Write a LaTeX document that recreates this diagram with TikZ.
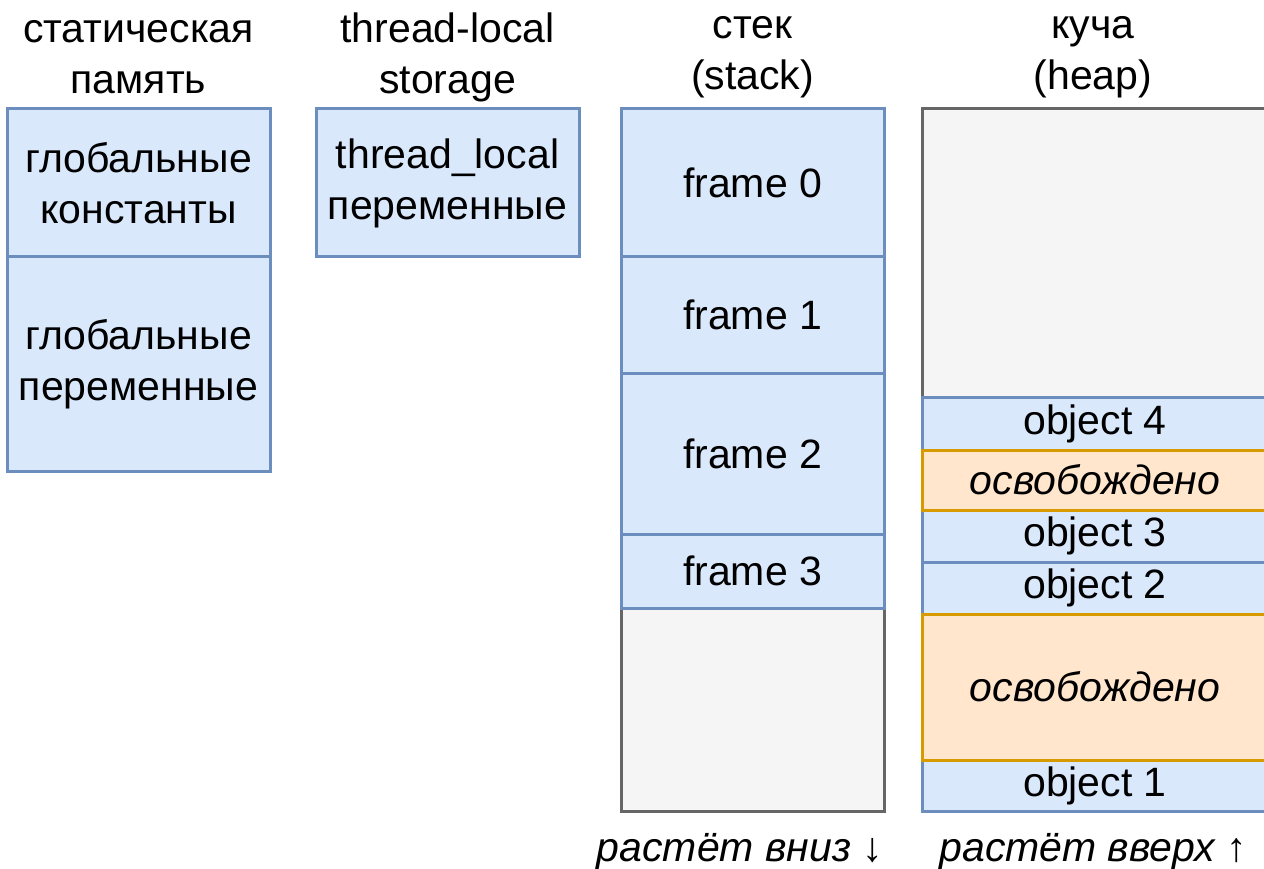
\documentclass[tikz,border=0pt]{standalone}
\usepackage{fontspec}
\setmainfont{Liberation Sans}
\usetikzlibrary{positioning}
\definecolor{memblue}{HTML}{DAE8FC}
\definecolor{membluedraw}{HTML}{6C8EBF}
\definecolor{memfree}{HTML}{FFE6CC}
\definecolor{memfreedraw}{HTML}{D79B00}
\definecolor{memspare}{HTML}{F5F5F5}
\definecolor{memsparedraw}{HTML}{666666}
% spare cells go under, freed ones over the neighbouring borders
\pgfdeclarelayer{back}
\pgfdeclarelayer{front}
\pgfsetlayers{back,main,front}

\begin{document}
\begin{tikzpicture}[x=1pt, y=-1pt, node distance=0pt,
      cell/.style={draw=membluedraw, fill=memblue, line width=3pt, inner sep=0pt, outer sep=0pt,
                   minimum width=263pt, align=center, font=\fontsize{41}{51}\selectfont},
      heapcell/.style={cell, minimum width=346pt},
      freed/.style={heapcell, draw=memfreedraw, fill=memfree, font=\fontsize{41}{51}\selectfont\itshape},
      spare/.style={cell, draw=memsparedraw, fill=memspare},
      heapspare/.style={spare, minimum width=346pt},
      hdr/.style={align=center, inner sep=0pt, font=\fontsize{41}{51}\selectfont},
      note/.style={inner sep=0pt, font=\fontsize{41}{51}\selectfont\itshape}]
    \useasboundingbox (0,0) rectangle (1264,869);

    % static memory
    \node[hdr] (hstat) at (138.5,57) {статическая\\память};
    \node[cell, minimum height=148pt, anchor=north] (gconst) at (138.5,109) {глобальные\\константы};
    \node[cell, minimum height=214pt, below=of gconst] (gvar) {глобальные\\переменные};

    % thread-local storage
    \node[hdr] (htls) at (447.5,57) {thread-local\\storage};
    \node[cell, minimum height=148pt, anchor=north] (tls) at (447.5,109) {thread\_local\\переменные};

    % stack
    \node[hdr] (hstack) at (752.5,57) {стек\\(stack)};
    \node[cell, minimum height=148pt, anchor=north] (fr0) at (752.5,109) {frame 0};
    \node[cell, minimum height=116pt, below=of fr0] (fr1) {frame 1};
    \node[cell, minimum height=161pt, below=of fr1] (fr2) {frame 2};
    \node[cell, minimum height=74pt, below=of fr2] (fr3) {frame 3};
    \begin{pgfonlayer}{back}
      \node[spare, minimum height=203pt, below=of fr3] (stackfree) {};
    \end{pgfonlayer}
    \node[note] (sgrow) at (740,852) {растёт вниз ↓};

    % heap
    \node[hdr] (hheap) at (1093,57) {куча\\(heap)};
    \begin{pgfonlayer}{back}
      \node[heapspare, minimum height=288pt, anchor=north] (heapfree) at (1095,109) {};
    \end{pgfonlayer}
    \node[heapcell, minimum height=53pt, below=of heapfree] (obj4) {object 4};
    \begin{pgfonlayer}{front}
      \node[freed, minimum height=60pt, below=of obj4] (gap1) {освобождено};
    \end{pgfonlayer}
    \node[heapcell, minimum height=52pt, below=of gap1] (obj3) {object 3};
    \node[heapcell, minimum height=52pt, below=of obj3] (obj2) {object 2};
    \begin{pgfonlayer}{front}
      \node[freed, minimum height=146pt, below=of obj2] (gap2) {освобождено};
    \end{pgfonlayer}
    \node[heapcell, minimum height=51pt, below=of gap2] (obj1) {object 1};
    \node[note] (hgrow) at (1093,852) {растёт вверх ↑};
  \end{tikzpicture}
\end{document}
